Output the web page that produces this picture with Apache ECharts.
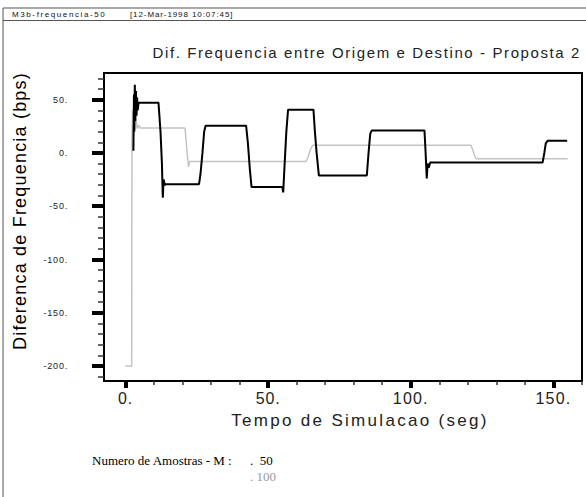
<!DOCTYPE html>
<html>
<head>
<meta charset="utf-8">
<script src="https://cdn.jsdelivr.net/npm/echarts@6/dist/echarts.min.js"></script>
<style>
  html, body { margin: 0; padding: 0; background: #fff; }
  #chart { width: 586px; height: 497px; }
</style>
</head>
<body>
<div id="chart"></div>
<script>
// Frequency difference between origin and destination, M = 50 samples
const timeM50 = [2.8, 3.0, 3.1, 3.3, 3.5, 3.7, 3.9, 4.1, 4.3, 4.6, 11.6, 12.3, 12.8, 13.1, 13.4, 13.8, 14.3,
  25.8, 26.3, 27.0, 27.6, 28.1, 42.3, 42.9, 43.6, 44.2, 55.0, 55.3, 55.8, 56.4, 57.0,
  65.9, 66.4, 67.0, 67.8, 84.6, 85.2, 85.8, 86.3, 104.8, 105.2, 105.6, 105.9, 106.3, 106.8,
  146.2, 146.8, 147.3, 148.0, 154.8];
const freqM50 = [2, 55, 20, 64, 30, 58, 35, 52, 40, 47, 47, 20, -10, -42, -25, -30, -29.3,
  -29.3, -20, 0, 20, 25.6, 25.6, 10, -15, -32, -32, -37, -10, 20, 40.6,
  40.6, 20, 0, -21.2, -21.2, 0, 18, 21, 21, 0, -24, -10, -14, -9,
  -9, 0, 9, 11.5, 11.5];

// Same quantity, M = 100 samples
const timeM100 = [0, 2.2, 2.3, 2.5, 2.7, 2.9, 3.1, 3.3, 3.5, 3.8, 4.2, 4.7, 5.2,
  20.9, 21.3, 21.8, 22.1, 22.5, 63.3, 64.0, 64.8, 65.6, 121.1, 121.7, 122.3, 123.0, 155.0];
const freqM100 = [-200, -200, 10, 40, 15, 38, 20, 34, 22, 30, 23, 26, 23.4,
  23.4, 10, -5, -13, -8, -8, -4, 3, 7.2, 7.2, 3, -2, -5.5, -5.5];

// Axis ticks
const xMajorTicks = [0, 50, 100, 150];
const xMinorTicks = [10, 20, 30, 40, 60, 70, 80, 90, 110, 120, 130, 140, 160];
const yMajorTicks = [-200, -150, -100, -50, 0, 50];
const yMinorTicks = [-210, -190, -180, -170, -160, -140, -130, -120, -110, -90, -80, -70, -60,
  -40, -30, -20, -10, 10, 20, 30, 40, 60, 70];

const xRange = [-7.5, 160];
const yRange = [-214, 75];

const titleText = 'Dif. Frequencia entre Origem e Destino - Proposta 2';
const xName = 'Tempo de Simulacao (seg)';
const yName = 'Diferenca de Frequencia (bps)';
const fileTag = 'M3b-frequencia-50';
const stampTag = '[12-Mar-1998 10:07:45]';

const zip = (xs, ys) => xs.map((x, i) => [x, ys[i]]);
const SANS = '"Liberation Sans", Arial, sans-serif';
const SERIF = '"Liberation Serif", "Times New Roman", serif';

const chart = echarts.init(document.getElementById('chart'), null, { renderer: 'svg' });

const xAxisBase = {
  type: 'value', min: xRange[0], max: xRange[1], position: 'bottom',
  axisLine: { show: false, onZero: false }, splitLine: { show: false }
};
const yAxisBase = {
  type: 'value', min: yRange[0], max: yRange[1], position: 'left',
  axisLine: { show: false, onZero: false }, splitLine: { show: false }
};

chart.setOption({
  animation: false,
  backgroundColor: '#fff',
  grid: {
    left: 104, top: 73, width: 478, height: 308,
    show: true, borderColor: '#000', borderWidth: 2, backgroundColor: 'transparent'
  },
  xAxis: [
    Object.assign({}, xAxisBase, {
      axisTick: { show: true, inside: false, length: 7, customValues: xMajorTicks,
        lineStyle: { color: '#000', width: 4 } },
      axisLabel: { show: true, customValues: xMajorTicks, margin: 9,
        formatter: v => v + '.', color: '#222',
        fontFamily: SANS, fontSize: 16 }
    }),
    Object.assign({}, xAxisBase, {
      axisTick: { show: true, inside: false, length: 4, customValues: xMinorTicks,
        lineStyle: { color: '#333', width: 1.5 } },
      axisLabel: { show: false }
    })
  ],
  yAxis: [
    Object.assign({}, yAxisBase, {
      axisTick: { show: true, inside: false, length: 12, customValues: yMajorTicks,
        lineStyle: { color: '#000', width: 4 } },
      axisLabel: { show: true, customValues: yMajorTicks, margin: 36,
        formatter: v => v + '.', color: '#222',
        fontFamily: SANS, fontSize: 9 }
    }),
    Object.assign({}, yAxisBase, {
      axisTick: { show: true, inside: false, length: 6, customValues: yMinorTicks,
        lineStyle: { color: '#333', width: 1.5 } },
      axisLabel: { show: false }
    })
  ],
  series: [
    {
      name: 'M = 100', type: 'line', xAxisIndex: 0, yAxisIndex: 0,
      data: zip(timeM100, freqM100), showSymbol: false, symbol: 'none',
      lineStyle: { color: '#c4c4c4', width: 1.5 }
    },
    {
      name: 'M = 50', type: 'line', xAxisIndex: 0, yAxisIndex: 0,
      data: zip(timeM50, freqM50), showSymbol: false, symbol: 'none',
      lineStyle: { color: '#000', width: 2 }
    }
  ],
  graphic: [
    // page frame and header rule
    { type: 'line', shape: { x1: 3, y1: 8, x2: 3, y2: 497 }, style: { stroke: '#555', lineWidth: 1 } },
    { type: 'line', shape: { x1: 3, y1: 8, x2: 586, y2: 8 }, style: { stroke: '#555', lineWidth: 1 } },
    { type: 'line', shape: { x1: 3, y1: 20.5, x2: 586, y2: 20.5 }, style: { stroke: '#555', lineWidth: 1 } },
    { type: 'text', x: 12, y: 14, style: { text: fileTag, font: '8px ' + SANS,
      fill: '#111', textVerticalAlign: 'middle' } },
    { type: 'text', x: 130, y: 14, style: { text: stampTag, font: '8px ' + SANS,
      fill: '#111', textVerticalAlign: 'middle' } },
    // chart title
    { type: 'text', x: 581, y: 52, style: { text: titleText,
      font: '15px ' + SANS, fill: '#222', textAlign: 'right', textVerticalAlign: 'middle' } },
    // axis names
    { type: 'text', x: 20, y: 211, rotation: Math.PI / 2, style: { text: yName,
      font: '18px ' + SANS, fill: '#000', textAlign: 'center', textVerticalAlign: 'middle' } },
    { type: 'text', x: 360, y: 420, style: { text: xName,
      font: '17px ' + SANS, fill: '#222', textAlign: 'center', textVerticalAlign: 'middle' } },
    // sample-count key
    { type: 'text', x: 92, y: 460, style: { text: 'Numero de Amostras - M :',
      font: '13px ' + SERIF, fill: '#000', textVerticalAlign: 'middle' } },
    { type: 'text', x: 250, y: 460, style: { text: '.  50',
      font: '13px ' + SERIF, fill: '#000', textVerticalAlign: 'middle' } },
    { type: 'text', x: 250, y: 476, style: { text: '. 100',
      font: '13px ' + SERIF, fill: '#999', textVerticalAlign: 'middle' } }
  ]
});

// Wide letter spacing of the plotting package's typography
const tracking = {};
tracking[titleText] = 1.6;
tracking[xName] = 2.3;
tracking[yName] = 1.2;
tracking[fileTag] = 1.6;
tracking[stampTag] = 0.9;
xMajorTicks.forEach(v => { tracking[v + '.'] = 1.2; });
yMajorTicks.forEach(v => { tracking[v + '.'] = 0.8; });

function applyTracking() {
  document.querySelectorAll('#chart svg text').forEach(t => {
    const s = tracking[t.textContent];
    if (s !== undefined) t.setAttribute('letter-spacing', s + 'px');
  });
}
chart.getZr().flush();
applyTracking();
chart.on('finished', applyTracking);
</script>
</body>
</html>
